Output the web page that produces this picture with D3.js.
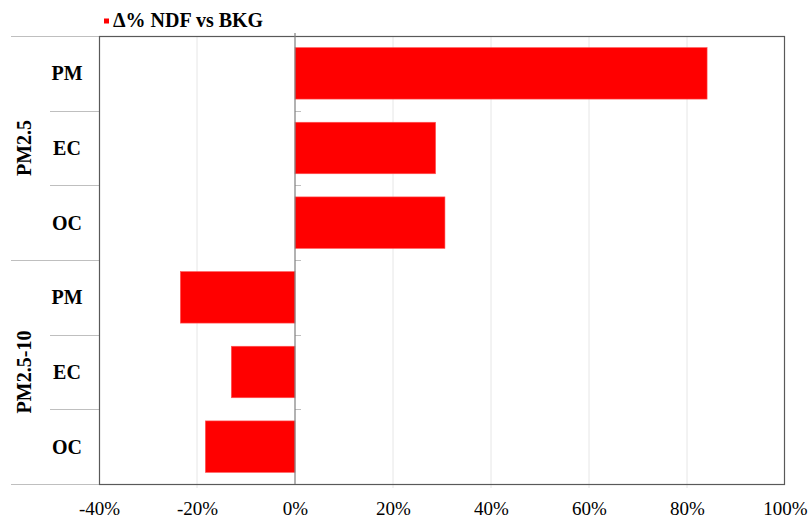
<!DOCTYPE html>
<html>
<head>
<meta charset="utf-8">
<script src="https://cdn.jsdelivr.net/npm/d3@7"></script>
<style>
  html, body { margin: 0; padding: 0; background: #fff; }
  svg { display: block; }
  text { font-family: "Liberation Serif", "Times New Roman", serif; fill: #000; }
</style>
</head>
<body>
<svg id="chart" width="812" height="519"></svg>
<script>
// ---- data ----
const groups = ["PM2.5", "PM2.5-10"];
const species = ["PM", "EC", "OC"];
const categories = ["PM2.5|PM", "PM2.5|EC", "PM2.5|OC", "PM2.5-10|PM", "PM2.5-10|EC", "PM2.5-10|OC"];
const values = [84.1, 28.7, 30.6, -23.4, -13.0, -18.3];
const xTicks = [-40, -20, 0, 20, 40, 60, 80, 100];
const seriesName = "\u0394% NDF vs BKG";

// ---- layout ----
const svg = d3.select("#chart");
const L = 99, R = 785, T = 36, B = 484;

const x = d3.scaleLinear().domain([-40, 100]).range([L, R]);
const y = d3.scaleBand().domain(categories).range([T, B]).paddingInner(0.31).paddingOuter(0.155);
const yBand = d3.scaleBand().domain(categories).range([T, B]).padding(0);

// gridlines
svg.append("g").selectAll("line")
  .data(xTicks.filter(d => d !== 0 && d !== -40 && d !== 100))
  .join("line")
  .attr("x1", d => x(d)).attr("x2", d => x(d))
  .attr("y1", T).attr("y2", B + 4)
  .attr("stroke", "#e6e6e6").attr("stroke-width", 1);

// bars
svg.append("g").selectAll("rect")
  .data(categories.map((c, i) => ({ c, v: values[i] })))
  .join("rect")
  .attr("x", d => x(Math.min(0, d.v)))
  .attr("width", d => Math.abs(x(d.v) - x(0)))
  .attr("y", d => y(d.c))
  .attr("height", y.bandwidth())
  .attr("fill", "#ff0000")
  .attr("stroke", "#ff5a5a").attr("stroke-width", 0.6);

// category separator lines (multi-level axis)
const boundaries = d3.range(categories.length + 1).map(i => T + i * yBand.step());
svg.append("g").selectAll("line")
  .data(boundaries)
  .join("line")
  .attr("x1", (d, i) => (i % 3 === 0) ? 11 : 50)
  .attr("x2", L)
  .attr("y1", d => Math.round(d) + 0.5).attr("y2", d => Math.round(d) + 0.5)
  .attr("stroke", "#bfbfbf").attr("stroke-width", 1);

// ticks on zero axis
svg.append("g").selectAll("line")
  .data(boundaries)
  .join("line")
  .attr("x1", x(0)).attr("x2", x(0) + 6)
  .attr("y1", d => Math.round(d) + 0.5).attr("y2", d => Math.round(d) + 0.5)
  .attr("stroke", "#bfbfbf").attr("stroke-width", 1);

// plot frame
svg.append("rect")
  .attr("x", L + 0.5).attr("y", T + 0.5)
  .attr("width", R - L - 1).attr("height", B - T)
  .attr("fill", "none").attr("stroke", "#595959").attr("stroke-width", 1.2);

// zero axis line
svg.append("line")
  .attr("x1", x(0)).attr("x2", x(0))
  .attr("y1", T - 3).attr("y2", B)
  .attr("stroke", "#7f7f7f").attr("stroke-width", 1.2);

// x axis labels
const xAxis = d3.axisBottom(x).tickValues(xTicks).tickSize(0).tickPadding(0)
  .tickFormat(d => d + "%");
const gx = svg.append("g").attr("transform", `translate(0,${B + 31})`).call(xAxis);
gx.select(".domain").remove();
gx.selectAll("text")
  .attr("dy", 0)
  .style("font-family", '"Liberation Serif", "Times New Roman", serif')
  .style("font-size", "19px").attr("fill", "#000");

// category labels
svg.append("g").selectAll("text")
  .data(categories)
  .join("text")
  .attr("x", 67)
  .attr("y", d => yBand(d) + yBand.bandwidth() / 2 + 7)
  .attr("text-anchor", "middle")
  .style("font-size", "20px").style("font-weight", "bold")
  .text(d => d.split("|")[1]);

// group labels
svg.append("g").selectAll("text")
  .data(groups)
  .join("text")
  .attr("transform", (g, i) => {
    const cy = T + (i * 3 + 1.5) * yBand.step();
    return `translate(31,${cy}) rotate(-90)`;
  })
  .attr("text-anchor", "middle")
  .style("font-size", "20px").style("font-weight", "bold")
  .text(d => d);

// legend
const lg = svg.append("g");
lg.append("rect").attr("x", 104).attr("y", 18.5).attr("width", 5).attr("height", 5).attr("fill", "#ff0000");
lg.append("text").attr("x", 113).attr("y", 27)
  .style("font-size", "20px").style("font-weight", "bold")
  .text(seriesName);
</script>
</body>
</html>
